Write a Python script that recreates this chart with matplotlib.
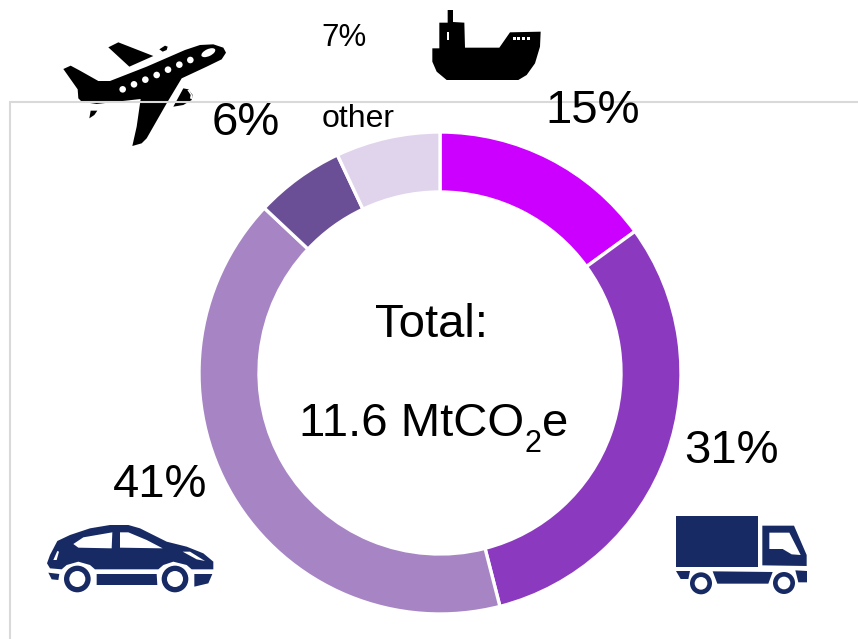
import matplotlib
matplotlib.use("Agg")
import matplotlib.pyplot as plt
from matplotlib.patches import Polygon, Circle, Ellipse, Rectangle

plt.rcParams["font.family"] = ["Liberation Sans", "DejaVu Sans"]

# Dados
modes = ["ship", "truck", "car", "plane", "other"]
shares = [15, 31, 41, 6, 7]
colors = ["#CC00FF", "#8B3AC0", "#A785C5", "#6B4F96", "#E0D4EC"]
NAVY = "#172A64"
W, H = 858, 639

fig = plt.figure(figsize=(W / 100, H / 100), dpi=100)

# camada em pixels para moldura, textos e icones
ax = fig.add_axes([0, 0, 1, 1])
ax.set_xlim(0, W)
ax.set_ylim(H, 0)
ax.axis("off")

ax.plot([858, 10, 10], [102, 102, 639], color="#D9D9D9", lw=1.5, solid_joinstyle="miter")

# Donut
cx, cy, r = 440, 373, 241
ax2 = fig.add_axes([(cx - r) / W, 1 - (cy + r) / H, 2 * r / W, 2 * r / H])
ax2.pie(shares, colors=colors, startangle=90, counterclock=False, radius=1,
        wedgeprops={"width": 60 / 241, "edgecolor": "white", "linewidth": 2.4})
ax2.set_xlim(-1, 1)
ax2.set_ylim(-1, 1)
ax2.set_zorder(0)
ax.set_zorder(1)
ax.patch.set_alpha(0)


def shape(pts, ox, oy, color):
    ax.add_patch(Polygon([(ox + x / 3, oy + y / 3) for x, y in pts], closed=True,
                         facecolor=color, edgecolor="none"))


def roda(x, y, r1, r2, ox, oy):
    ax.add_patch(Circle((ox + x / 3, oy + y / 3), r1 / 3, facecolor=NAVY, edgecolor="none"))
    ax.add_patch(Circle((ox + x / 3, oy + y / 3), r2 / 3, facecolor="white", edgecolor="none"))


# Aviao
aviao = [(190, 207), (212, 197), (240, 212), (295, 243), (330, 243), (440, 200), (555, 150),
         (600, 135), (640, 133), (670, 143), (678, 158), (665, 178), (620, 200), (545, 235),
         (500, 310), (440, 415), (425, 430), (397, 438), (410, 380), (422, 297), (350, 305),
         (290, 312), (245, 305), (235, 295), (233, 268)]
shape(aviao, 0, 0, "black")
shape([(325, 142), (355, 127), (460, 168), (388, 200)], 0, 0, "black")
shape([(478, 148), (495, 137), (503, 140), (500, 150), (488, 155)], 0, 0, "black")
shape([(520, 320), (550, 265), (565, 268), (578, 285), (575, 300), (550, 315)], 0, 0, "black")
shape([(268, 355), (272, 332), (292, 332), (283, 345)], 0, 0, "black")
shape([(562, 270), (568, 270), (578, 288), (575, 298), (570, 295), (572, 285)], 0, 0, "white")
for wx, wy in [(368, 268), (402, 253), (436, 239), (470, 225), (504, 209), (538, 194), (571, 180)]:
    ax.add_patch(Circle((wx / 3, wy / 3), 3.3, facecolor="white", edgecolor="none"))
ax.add_patch(Ellipse((625 / 3, 158 / 3), 15, 7, angle=-25, facecolor="white", edgecolor="none"))

# Navio
navio = [(397, 145), (418, 145), (418, 68), (443, 68), (443, 30), (459, 30), (459, 66), (493, 68),
         (495, 143), (598, 143), (630, 97), (722, 95), (720, 140), (705, 190), (680, 225),
         (655, 240), (440, 240), (410, 215), (397, 185)]
shape(navio, 300, 0, "black")
ax.add_patch(Rectangle((300 + 440 / 3, 97 / 3), 2.7, 7.3, facecolor="white", edgecolor="none"))
for sx in [638, 652, 666, 680]:
    ax.add_patch(Rectangle((300 + sx / 3, 112 / 3), 3, 3, facecolor="white", edgecolor="none"))

# Carro
carro = [(141, 190), (150, 165), (172, 123), (210, 105), (270, 85), (330, 75), (385, 75), (420, 85),
         (500, 125), (560, 140), (610, 160), (640, 185), (640, 208), (575, 208), (560, 195),
         (520, 185), (490, 195), (475, 208), (285, 208), (270, 195), (235, 185), (200, 195),
         (185, 208), (150, 205)]
shape(carro, 0, 500, NAVY)
shape([(220, 132), (250, 112), (337, 97), (335, 145), (235, 143)], 0, 500, "white")
shape([(360, 97), (385, 97), (440, 120), (488, 145), (360, 143)], 0, 500, "white")
shape([(548, 155), (570, 155), (615, 183), (590, 178)], 0, 500, "white")
shape([(160, 180), (172, 153), (177, 155), (170, 180)], 0, 500, "white")
shape([(145, 218), (178, 222), (175, 240), (155, 238)], 0, 500, NAVY)
shape([(290, 222), (470, 222), (472, 255), (290, 255)], 0, 500, NAVY)
shape([(583, 222), (637, 222), (625, 250), (583, 260)], 0, 500, NAVY)
roda(232, 237, 40, 24, 0, 500)
roda(525, 237, 40, 24, 0, 500)

# Caminhao
shape([(78, 78), (325, 78), (325, 232), (78, 232)], 650, 490, NAVY)
shape([(337, 107), (432, 107), (470, 195), (470, 228), (337, 226)], 650, 490, NAVY)
shape([(358, 128), (418, 128), (452, 195), (425, 193), (398, 177), (358, 177)], 650, 490, "white")
shape([(78, 243), (120, 243), (115, 267), (92, 267)], 650, 490, NAVY)
shape([(188, 244), (368, 246), (355, 281), (202, 281)], 650, 490, NAVY)
shape([(436, 241), (471, 243), (471, 277), (445, 277)], 650, 490, NAVY)
roda(153, 280, 33, 19, 650, 490)
roda(402, 279, 33, 19, 650, 490)

# Textos
big = 34
ax.text(593, 111, f"{shares[0]}%", fontsize=big, ha="center", va="center")
ax.text(731, 451, f"{shares[1]}%", fontsize=big, ha="center", va="center")
ax.text(160, 485, f"{shares[2]}%", fontsize=big, ha="center", va="center")
ax.text(246, 123, f"{shares[3]}%", fontsize=big, ha="center", va="center")
ax.text(344, 38, f"{shares[4]}%", fontsize=22.5, ha="center", va="center")
ax.text(358, 119, modes[4], fontsize=23, ha="center", va="center")
ax.text(431, 325, "Total:", fontsize=34, ha="center", va="center")
# subscrito em texto separado, fica mais baixo como no original
ax.text(299, 436, "11.6 MtCO", fontsize=34, ha="left", va="baseline")
ax.text(525, 452, "2", fontsize=22, ha="left", va="baseline")
ax.text(542, 436, "e", fontsize=34, ha="left", va="baseline")

fig.savefig("out.png", dpi=100)
